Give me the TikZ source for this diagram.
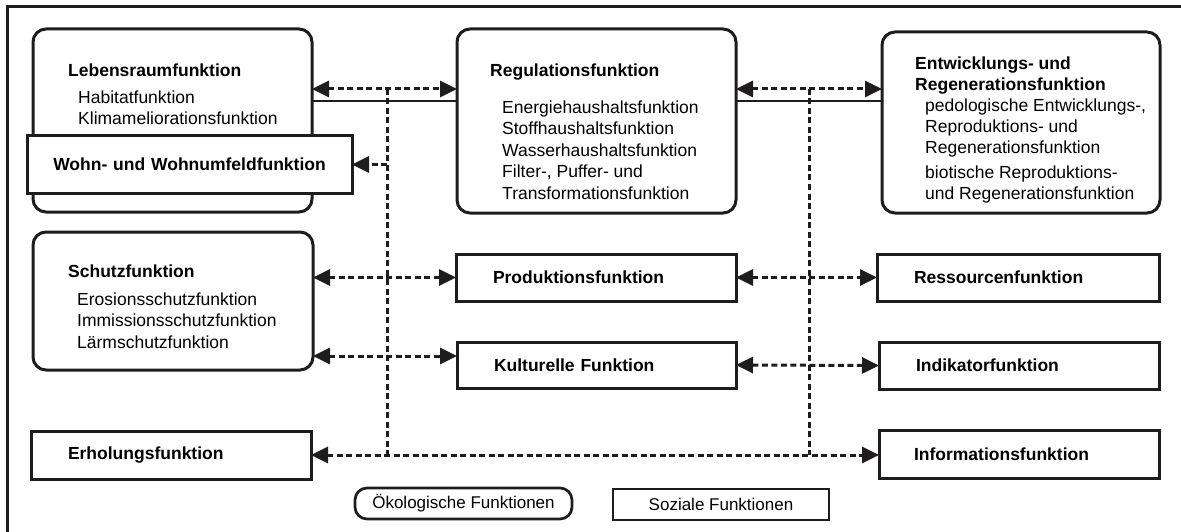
\documentclass[tikz,border=0pt]{standalone}
\usepackage{fontspec}
\setmainfont{Liberation Sans}
\usetikzlibrary{positioning,arrows.meta}
\definecolor{fkBlack}{RGB}{30,28,28}

\begin{document}
\begin{tikzpicture}[x=1pt, y=-1pt,
    >={Triangle[length=17pt, width=16pt]},
    ecoBox/.style={draw=fkBlack, line width=3pt, rounded corners=13pt, fill=white,
      anchor=north west, inner sep=0pt, outer sep=0pt},
    socBox/.style={draw=fkBlack, line width=3pt, fill=white, anchor=north west,
      inner xsep=37pt, inner ysep=0pt, outer sep=0pt, align=left,
      font=\fontsize{17.5}{21}\selectfont\bfseries},
    head/.style={anchor=north west, inner sep=0pt, align=left,
      font=\fontsize{17.5}{21}\selectfont\bfseries},
    items/.style={anchor=north west, inner sep=0pt, align=left,
      font=\fontsize{17.5}{21.5}\selectfont},
    link/.style={draw=fkBlack, line width=3pt, dash pattern=on 6pt off 3.5pt},
    tie/.style={draw=fkBlack, line width=1.5pt},
    legend/.style={draw=fkBlack, line width=2.7pt, anchor=north west, inner sep=0pt,
      outer sep=0pt, font=\fontsize{17}{20}\selectfont}
  ]
  \useasboundingbox (0,0) rectangle (1181,532);

  % frame (top and left edge only)
  \draw[fkBlack, line width=3pt] (7,532) -- (7,7) -- (1181,7);

  % upper row: ecological functions
  \node[ecoBox, minimum width=279pt, minimum height=183pt] (leb) at (33,29) {};
  \node[head] (lebT) at (68,63.5) {Lebensraumfunktion};
  \node[items, font=\fontsize{17.5}{21}\selectfont] (lebL) at (78,90.5) {Habitatfunktion\\Klimameliorationsfunktion};
  \node[socBox, minimum width=325pt, minimum height=57pt, inner xsep=10pt, text width=305pt, align=center] (wohn) at (27,136) {Wohn- und Wohnumfeldfunktion};

  \node[ecoBox, minimum width=279pt, minimum height=184pt] (reg) at (457,29) {};
  \node[head] (regT) at (490,63.5) {Regulationsfunktion};
  \node[items] (regL) at (502,100.5) {Energiehaushaltsfunktion\\Stoffhaushaltsfunktion\\Wasserhaushaltsfunktion\\Filter-, Puffer- und\\Transformationsfunktion};

  \node[ecoBox, minimum width=278pt, minimum height=181pt] (entw) at (882,32) {};
  \node[head] (entwT) at (915,56.5) {Entwicklungs- und\\Regenerationsfunktion};
  \node[items, font=\fontsize{17.5}{21}\selectfont] (entwL) at (925,98.5) {pedologische Entwicklungs-,\\Reproduktions- und\\Regenerationsfunktion\\[4pt]biotische Reproduktions-\\und Regenerationsfunktion};

  % middle rows
  \node[ecoBox, minimum width=280pt, minimum height=138pt] (schutz) at (33,232) {};
  \node[head] (schutzT) at (68,264.5) {Schutzfunktion};
  \node[items, font=\fontsize{17.5}{21.5}\selectfont] (schutzL) at (77,292.5) {Erosionsschutzfunktion\\Immissionsschutzfunktion\\Lärmschutzfunktion};

  \node[socBox, minimum width=280pt, minimum height=47pt, text width=206pt] (prod) at (456,254) {Produktionsfunktion};
  \node[socBox, minimum width=282pt, minimum height=47pt, text width=208pt] (ress) at (877,254) {Ressourcenfunktion};
  \node[socBox, minimum width=279pt, minimum height=46pt, text width=205pt] (kult) at (457,342) {Kulturelle Funktion};
  \node[socBox, minimum width=280pt, minimum height=47pt, text width=206pt] (indik) at (879,342) {Indikatorfunktion};

  % bottom row
  \node[socBox, minimum width=280pt, minimum height=48pt, text width=206pt] (erh) at (31,431) {Erholungsfunktion};
  \node[socBox, minimum width=280pt, minimum height=48pt, text width=210pt, inner xsep=35pt] (info) at (879,430) {Informationsfunktion};

  % legend
  \node[legend, rounded corners=12pt, minimum width=217pt, minimum height=31pt] (oeko) at (355,488) {Ökologische Funktionen};
  \node[legend, minimum width=216pt, minimum height=31pt] (sozial) at (613,489) {Soziale Funktionen};

  % bus lines
  \coordinate (busL) at (387,89);
  \coordinate (busR) at (809,89);
  \coordinate (tieY) at (0,101);
  \coordinate (kultY) at (0,356);

  \draw[tie] (leb.east |- tieY) -- (reg.west |- tieY);
  \draw[tie] (reg.east |- tieY) -- (entw.west |- tieY);

  \draw[link] (busL) -- (busL |- erh.east);
  \draw[link] (busR) -- (busR |- erh.east);

  % arrows
  \draw[link, <->] (leb.east |- busL) -- (reg.west |- busL);
  \draw[link, <->] (reg.east |- busR) -- (entw.west |- busR);
  \draw[link, ->] (busL |- wohn.east) -- (wohn.east);
  \draw[link, <->] (schutz.east |- prod.west) -- (prod.west);
  \draw[link, <->] (prod.east) -- (ress.west);
  \draw[link, <->] (schutz.east |- kultY) -- (kult.west |- kultY);
  \draw[link, <->] (kult.east) -- (indik.west);
  \draw[link, <->] (erh.east) -- (info.west |- erh.east);
\end{tikzpicture}
\end{document}
